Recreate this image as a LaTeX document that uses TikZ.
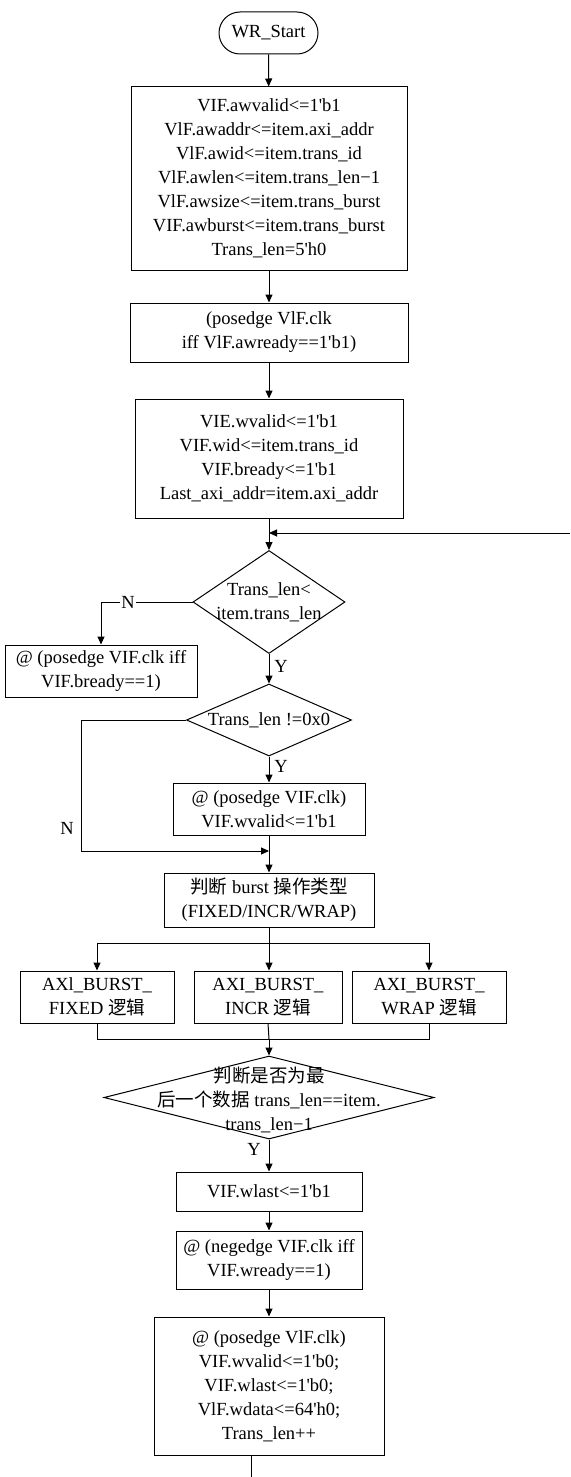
\documentclass[tikz,border=0pt]{standalone}
\usepackage{fontspec}
\setmainfont{Liberation Serif}
\newfontfamily\cjk{Noto Sans CJK SC}
\newcommand{\zh}[1]{{\cjk #1}}
\newcommand{\ap}{\textquotesingle}
\usepackage{tikz}
\usetikzlibrary{shapes.geometric, arrows.meta}
\tikzset{
  txt/.style={font=\fontsize{18.5}{24}\selectfont, align=center, inner sep=0pt},
  box/.style={txt, draw, rectangle},
  term/.style={txt, draw, rectangle, rounded corners=21pt},
  dec/.style={draw, diamond, inner sep=0pt},
  lab/.style={txt, fill=white, inner sep=1pt},
  >={Triangle[length=8pt,width=7pt]}
}

\begin{document}
\begin{tikzpicture}[x=1pt, y=-1pt, line width=1pt]
\useasboundingbox (0,0) rectangle (570,1477);

\node[term, minimum width=99pt, minimum height=42pt] (start) at (268.5,33) {WR\_Start};
\node[box, minimum width=276pt, minimum height=183pt] (b1) at (269,178.5) {VIF.awvalid<=1\ap b1\\VlF.awaddr<=item.axi\_addr\\VlF.awid<=item.trans\_id\\VlF.awlen<=item.trans\_len−1\\VlF.awsize<=item.trans\_burst\\VIF.awburst<=item.trans\_burst\\Trans\_len=5\ap h0};
\node[box, minimum width=278pt, minimum height=59pt] (b2) at (269,332.5) {(posedge VlF.clk\\iff VlF.awready==1\ap b1)};
\node[box, minimum width=268pt, minimum height=119pt] (b3) at (269,458.5) {VIE.wvalid<=1\ap b1\\VIF.wid<=item.trans\_id\\VIF.bready<=1\ap b1\\Last\_axi\_addr=item.axi\_addr};

\node[dec, minimum width=152pt, minimum height=103pt] (d1) at (269,602) {};
\node[txt] (d1t) at (d1) {Trans\_len<\\item.trans\_len};
\node[box, minimum width=192pt, minimum height=52pt] (bn) at (101,671) {@ (posedge VIF.clk iff\\VIF.bready==1)};

\node[dec, minimum width=165pt, minimum height=72pt] (d2) at (269,720) {};
\node[txt] (d2t) at (d2) {Trans\_len !=0x0};
\node[box, minimum width=192pt, minimum height=52pt] (b4) at (269,809) {@ (posedge VIF.clk)\\VIF.wvalid<=1\ap b1};

\node[box, minimum width=210pt, minimum height=54pt] (b5) at (269,900) {\zh{判断} burst \zh{操作类型}\\(FIXED/INCR/WRAP)};
\node[box, minimum width=154pt, minimum height=52pt] (b6) at (97,997) {AXl\_BURST\_\\FIXED \zh{逻辑}};
\node[box, minimum width=148pt, minimum height=52pt] (b7) at (268,997) {AXI\_BURST\_\\INCR \zh{逻辑}};
\node[box, minimum width=154pt, minimum height=52pt] (b8) at (429,997) {AXI\_BURST\_\\WRAP \zh{逻辑}};

\node[dec, minimum width=330pt, minimum height=83pt] (d3) at (269,1097.5) {};
\node[txt] (d3t) at (269,1100) {\zh{判断是否为最}\\\zh{后一个数据} trans\_len==item.\\trans\_len−1};

\node[box, minimum width=186pt, minimum height=39pt] (b9) at (269,1191.5) {VIF.wlast<=1\ap b1};
\node[box, minimum width=186pt, minimum height=58pt] (b10) at (269,1260) {@ (negedge VIF.clk iff\\VIF.wready==1)};
\node[box, minimum width=230pt, minimum height=138pt] (b11) at (269,1386) {@ (posedge VlF.clk)\\VIF.wvalid<=1\ap b0;\\VIF.wlast<=1\ap b0;\\VlF.wdata<=64\ap h0;\\Trans\_len++};

\coordinate (loopin) at (570,533);
\coordinate (n2) at (81,851);
\coordinate (split) at (269,943);
\coordinate (merge) at (269,1039);
\coordinate (loopout) at (251,1477);

\draw[->] (start) -- (b1);
\draw[->] (b1) -- (b2);
\draw[->] (b2) -- (b3);
\draw[->] (b3) -- (d1);
\draw[->] (loopin) -- (loopin -| d1.north);
\draw[->] (d1.west) -| (bn.north);
\draw[->] (d1.south) -- (d2.north);
\draw[->] (d2.south) -- (b4.north);
\draw (d2.west) -| (n2);
\draw[->] (n2) -- (n2 -| b5.north);
\draw[->] (b4) -- (b5);
\draw (b5.south) -- (split);
\draw[->] (split) -| (b6.north);
\draw[->] (split) -| (b8.north);
\draw[->] (split) -- (split |- b7.north);
\draw (b6.south) |- (merge);
\draw (b8.south) |- (merge);
\draw (b7.south) -- (merge);
\draw[->] (merge) -- (d3.north);
\draw[->] (d3.south) -- (b9.north);
\draw[->] (b9) -- (b10);
\draw[->] (b10) -- (b11);
\draw (loopout |- b11.south) -- (loopout);

\node[lab] (n1lab) at (128,602) {N};
\node[lab] (n2lab) at (67,828) {N};
\node[lab] (y1lab) at (281,666) {Y};
\node[lab] (y2lab) at (281,766) {Y};
\node[lab] (y3lab) at (254,1149) {Y};

\end{tikzpicture}
\end{document}
